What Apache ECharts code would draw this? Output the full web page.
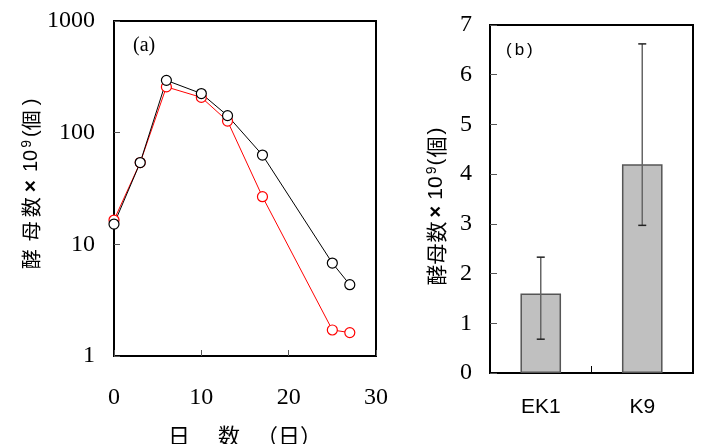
<!DOCTYPE html>
<html>
<head>
<meta charset="utf-8">
<script src="https://cdn.jsdelivr.net/npm/echarts@6/dist/echarts.min.js"></script>
<style>
  html, body, #main { width: 701px; height: 444px; margin: 0; background: #fff; }
</style>
</head>
<body>
<div id="main"></div>
<script>
// (a) yeast count over days, log scale
var days = [0, 3, 6, 10, 13, 17, 25, 27]
var blackCounts = [15.2, 54, 294, 224, 142, 63, 6.8, 4.35]
var redCounts = [16.5, 54, 257, 207, 127, 26.7, 1.71, 1.62]

// (b) yeast count per strain
var strains = ['EK1', 'K9']
var strainMeans = [1.6, 4.2]
var errLow = [0.68, 2.97]
var errHigh = [2.33, 6.62]

var serif = 'Liberation Serif'
var sans = 'Liberation Sans'
var jp = 'Noto Sans CJK JP'

var pairs = arr => days.map((d, i) => [d, arr[i]])

// builds a rich-text axis name out of [text, font, size, gapAfter, bold?, sup?] pieces
var richName = parts => {
  var rich = {}
  var str = ''
  parts.forEach((p, i) => {
    var key = 't' + i
    rich[key] = {
      fontFamily: p[1], fontSize: p[2], color: '#000',
      fontWeight: p[4] ? 'bold' : 'normal',
      padding: p[5] ? [0, p[3], 9, 0] : [0, p[3], 0, 0],
      verticalAlign: p[5] ? 'top' : 'middle'
    }
    str += '{' + key + '|' + p[0] + '}'
  })
  return { str, rich }
}

var leftName = richName([
  ['酵', jp, 20, 8], ['母', jp, 20, 4], ['数', jp, 20, 5],
  ['×', sans, 21, 8, true], ['10', sans, 20, 2], ['9', sans, 14, 3, false, true],
  ['(', sans, 20, 0], ['個', jp, 20, 5], [')', sans, 20, 0]
])
var rightName = richName([
  ['酵', jp, 21, 0], ['母', jp, 21, 1], ['数', jp, 21, 4],
  ['×', sans, 20, 6, true], ['10', sans, 21, 2], ['9', sans, 14, 1, false, true],
  ['(', sans, 21, 1], ['個', jp, 21, 2], [')', sans, 21, 0]
])

var chart = echarts.init(document.getElementById('main'))
chart.setOption({
  animation: false,
  grid: [
    { left: 114, top: 21, width: 262, height: 335, outerBoundsMode: 'none', show: true, borderColor: '#000', borderWidth: 2 },
    { left: 490, top: 25, width: 203, height: 348, outerBoundsMode: 'none', show: true, borderColor: '#000', borderWidth: 2 }
  ],
  xAxis: [
    {
      gridIndex: 0, type: 'value', min: 0, max: 30, interval: 10,
      axisLine: { show: true, lineStyle: { color: '#000', width: 2 } },
      axisTick: { show: true, inside: true, length: 6, lineStyle: { color: '#555' } },
      axisLabel: { margin: 30, fontSize: 24, fontFamily: serif, color: '#000' },
      splitLine: { show: false },
      name: '{g|日}{h|数}{k|（日）}', nameLocation: 'middle', nameGap: 69,
      nameTextStyle: {
        rich: {
          g: { fontSize: 22, fontFamily: jp, color: '#000', padding: [0, 28, 0, 0] },
          h: { fontSize: 22, fontFamily: jp, color: '#000', padding: [0, 16, 0, 0] },
          k: { fontSize: 22, fontFamily: jp, color: '#000' }
        }
      }
    },
    {
      gridIndex: 1, type: 'category', data: strains,
      axisLine: { show: true, lineStyle: { color: '#000', width: 2 } },
      axisTick: { show: true, inside: true, length: 7, lineStyle: { color: '#000' } },
      axisLabel: { margin: 24, fontSize: 21, fontFamily: sans, color: '#000' }
    }
  ],
  yAxis: [
    {
      gridIndex: 0, type: 'log', logBase: 10, min: 1, max: 1000,
      axisLine: { show: true, lineStyle: { color: '#000', width: 2 } },
      axisTick: { show: true, inside: true, length: 6, lineStyle: { color: '#555' } },
      axisLabel: { margin: 19, fontSize: 24, fontFamily: serif, color: '#000', formatter: v => String(Math.round(v)) },
      splitLine: { show: false },
      minorTick: { show: false },
      name: leftName.str, nameLocation: 'middle', nameRotate: 90, nameGap: 71,
      nameTextStyle: { rich: leftName.rich, padding: [0, 0, 0, 9] }
    },
    {
      gridIndex: 1, type: 'value', min: 0, max: 7, interval: 1,
      axisLine: { show: true, lineStyle: { color: '#000', width: 2 } },
      axisTick: { show: true, inside: true, length: 7, lineStyle: { color: '#555' } },
      axisLabel: { margin: 18, fontSize: 24, fontFamily: serif, color: '#000' },
      splitLine: { show: false },
      name: rightName.str, nameLocation: 'middle', nameRotate: 90, nameGap: 42,
      nameTextStyle: { rich: rightName.rich, padding: [0, 15, 0, 0] }
    }
  ],
  graphic: [
    { type: 'text', left: 133, top: 36, style: { text: '(a)', font: '20px "Liberation Serif"', fill: '#000' } },
    {
      type: 'text', left: 506, top: 42,
      style: {
        text: '{p|(}{b|b}{p|)}',
        rich: {
          p: { fontSize: 17, fontFamily: sans, fill: '#000' },
          b: { fontSize: 17, fontFamily: sans, fill: '#000', padding: [0, 3, 0, 3] }
        }
      }
    }
  ],
  series: [
    {
      type: 'line', xAxisIndex: 0, yAxisIndex: 0, data: pairs(redCounts),
      symbol: 'circle', symbolSize: 10,
      lineStyle: { color: '#ff0000', width: 1 },
      itemStyle: { color: '#fff', borderColor: '#ff0000', borderWidth: 1.2 }
    },
    {
      type: 'line', xAxisIndex: 0, yAxisIndex: 0, data: pairs(blackCounts),
      symbol: 'circle', symbolSize: 10,
      lineStyle: { color: '#000', width: 1 },
      itemStyle: { color: '#fff', borderColor: '#000', borderWidth: 1.2 }
    },
    {
      type: 'bar', xAxisIndex: 1, yAxisIndex: 1, data: strainMeans, barWidth: '40%',
      itemStyle: { color: '#c0c0c0', borderColor: '#555', borderWidth: 1.5 }
    },
    {
      type: 'custom', xAxisIndex: 1, yAxisIndex: 1, z: 5,
      data: strains.map((s, i) => [i, errLow[i], errHigh[i]]),
      renderItem: (params, api) => {
        var lo = api.coord([api.value(0), api.value(1)])
        var hi = api.coord([api.value(0), api.value(2)])
        var x = lo[0]
        return {
          type: 'group',
          children: [
            { type: 'line', shape: { x1: x, y1: lo[1], x2: x, y2: hi[1] }, style: { stroke: '#666', lineWidth: 1.5 } },
            { type: 'line', shape: { x1: x - 4, y1: lo[1], x2: x + 4, y2: lo[1] }, style: { stroke: '#222', lineWidth: 1.5 } },
            { type: 'line', shape: { x1: x - 4, y1: hi[1], x2: x + 4, y2: hi[1] }, style: { stroke: '#222', lineWidth: 1.5 } }
          ]
        }
      }
    }
  ]
})
</script>
</body>
</html>
